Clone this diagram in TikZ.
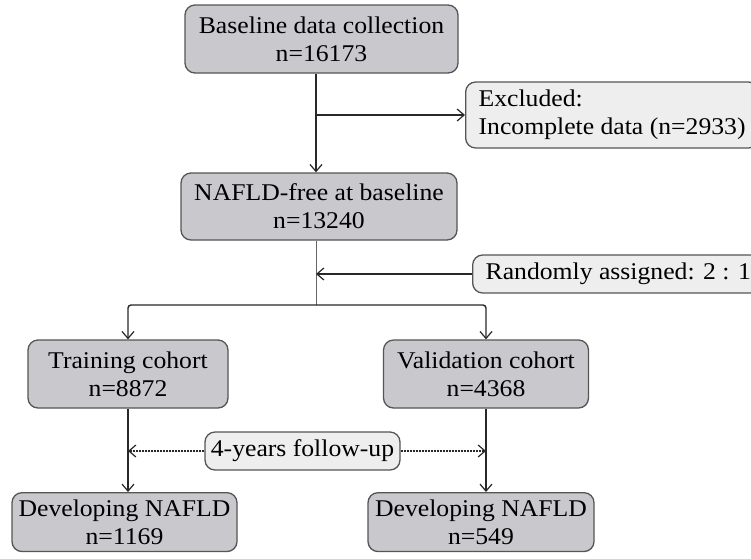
\documentclass[tikz,border=0pt]{standalone}
\usepackage{fontspec}
\setmainfont[FakeStretch=1.07]{Liberation Serif}
\usetikzlibrary{arrows.meta}
\definecolor{darkfill}{RGB}{201,201,205}
\definecolor{lightfill}{RGB}{238,238,238}
\definecolor{edge}{RGB}{85,85,85}
\definecolor{linec}{RGB}{40,40,40}
\tikzset{
  box/.style={draw=edge, line width=1.3pt, rounded corners=10pt, inner sep=0pt,
    font=\fontsize{24}{28}\selectfont, align=center, text=black},
  darkbox/.style={box, fill=darkfill},
  lightbox/.style={box, fill=lightfill, align=left, inner xsep=13pt, inner ysep=6pt},
  arr/.style={draw=linec, line width=1.4pt, -{Straight Barb[length=7pt,width=12pt,line width=1.2pt]}},
  thinline/.style={draw=gray!80!black, line width=0.8pt},
  dotarr/.style={draw=linec, line width=1.3pt, dash pattern=on 2pt off 1pt,
    -{Straight Barb[length=7pt,width=12pt,line width=1.2pt]}}
}
\begin{document}
\begin{tikzpicture}[x=1pt,y=-1pt]
\useasboundingbox[fill=white] (0,0) rectangle (751,558);
\coordinate (trunk) at (316,0);
\coordinate (split) at (316,305);
\node[darkbox, minimum width=273pt, minimum height=68pt] (base) at (321.5,39) {Baseline data collection\\n=16173};
\node[lightbox, anchor=west, minimum height=66pt] (excl) at (465,115) {Excluded:\\Incomplete data (n=2933)};
\node[darkbox, minimum width=276pt, minimum height=67pt] (nafld) at (319,206.5) {NAFLD-free at baseline\\n=13240};
\node[lightbox, anchor=west, minimum height=38pt] (rand) at (472,274) {Randomly assigned: 2 : 1};
\node[darkbox, minimum width=200pt, minimum height=68pt] (train) at (128,374) {Training cohort\\n=8872};
\node[darkbox, minimum width=205pt, minimum height=68pt] (val) at (486,374) {Validation cohort\\n=4368};
\node[lightbox, align=center, inner xsep=0pt, minimum width=195pt, minimum height=38pt] (fu) at (302.5,451) {4-years follow-up};
\node[darkbox, anchor=north, minimum width=225pt, inner ysep=7pt] (devl) at (124.5,492) {Developing NAFLD\\n=1169};
\node[darkbox, anchor=north, minimum width=226pt, inner ysep=7pt] (devr) at (481,492) {Developing NAFLD\\n=549};

\draw[arr] (base.south -| trunk) -- (nafld.north -| trunk);
\draw[arr] (trunk |- excl.west) -- (excl.west);
\draw[thinline] (nafld.south -| trunk) -- (split);
\draw[arr] (rand.west) -- (trunk |- rand.west);
\draw[arr, rounded corners=3pt] (split) -| (train.north);
\draw[arr, rounded corners=3pt] (split) -| (val.north);
\draw[arr] (train.south) -- (train.south |- devl.north);
\draw[arr] (val.south) -- (val.south |- devr.north);
\draw[dotarr] (fu.west) -- (train.south |- fu.west);
\draw[dotarr] (fu.east) -- (val.south |- fu.east);
\end{tikzpicture}
\end{document}
